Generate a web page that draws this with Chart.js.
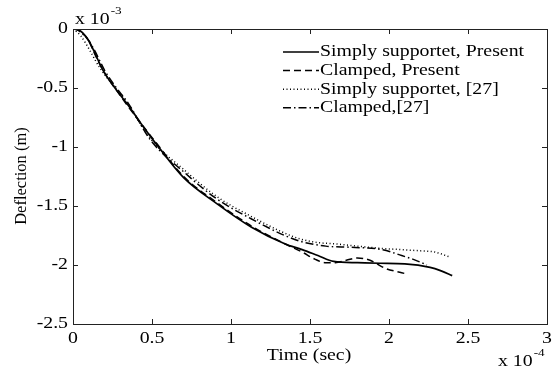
<!DOCTYPE html>
<html>
<head>
<meta charset="utf-8">
<script src="https://cdn.jsdelivr.net/npm/chart.js@4.4.0/dist/chart.umd.min.js"></script>
<style>
    html, body { margin: 0; padding: 0; background: #fff; }
    #wrap { width: 552px; height: 372px; }
</style>
</head>
<body>
<div id="wrap"><canvas id="deflChart"></canvas></div>
<script>
// time in units of 1e-4 s, deflection in units of 1e-3 m
const xTicks = [0, 0.5, 1, 1.5, 2, 2.5, 3];
const yTicks = [0, -0.5, -1, -1.5, -2, -2.5];

const seriesLabels = ['Simply supportet, Present', 'Clamped, Present', 'Simply supportet, [27]', 'Clamped,[27]'];

// Simply supported, present
const timeSS = [0, 0.03, 0.06, 0.1, 0.13, 0.19, 0.26, 0.34, 0.43, 0.53, 0.7, 0.91, 1.13, 1.34, 1.45, 1.55, 1.65, 1.8, 1.94, 2.1, 2.26, 2.33, 2.4];
const deflSS = [0, -0.005, -0.03, -0.1, -0.18, -0.35, -0.49, -0.63, -0.8, -0.98, -1.26, -1.48, -1.68, -1.82, -1.87, -1.92, -1.97, -1.98, -1.985, -1.99, -2.02, -2.05, -2.09];

// Clamped, present
const timeCP = [0, 0.03, 0.06, 0.1, 0.13, 0.19, 0.26, 0.34, 0.43, 0.53, 0.7, 0.91, 1.13, 1.34, 1.45, 1.53, 1.6, 1.66, 1.73, 1.8, 1.88, 1.98, 2.08, 2.12];
const deflCP = [0, -0.005, -0.035, -0.1, -0.19, -0.35, -0.49, -0.64, -0.8, -0.97, -1.25, -1.47, -1.67, -1.82, -1.89, -1.95, -1.98, -1.98, -1.96, -1.94, -1.96, -2.03, -2.065, -2.08];

// Simply supported, ref [27]
const timeSR = [0, 0.02, 0.05, 0.08, 0.11, 0.17, 0.25, 0.34, 0.49, 0.7, 0.91, 1.13, 1.34, 1.44, 1.55, 1.65, 1.8, 1.96, 2.08, 2.2, 2.29, 2.38];
const deflSR = [0, -0.02, -0.06, -0.12, -0.19, -0.33, -0.47, -0.62, -0.93, -1.19, -1.42, -1.59, -1.73, -1.78, -1.81, -1.82, -1.84, -1.86, -1.87, -1.88, -1.89, -1.93];

// Clamped, ref [27]
const timeCR = [0, 0.03, 0.06, 0.1, 0.14, 0.2, 0.27, 0.35, 0.49, 0.7, 0.91, 1.13, 1.34, 1.44, 1.6, 1.76, 1.96, 2.08, 2.15, 2.24];
const deflCR = [0, -0.01, -0.04, -0.1, -0.19, -0.35, -0.49, -0.63, -0.94, -1.21, -1.44, -1.61, -1.75, -1.8, -1.84, -1.85, -1.87, -1.92, -1.95, -2.0];

const dashes = [[], [7, 4], [1, 2.5], [8, 3, 1.5, 3]];

function toPoints(xs, ys) {
    return xs.map((x, i) => ({ x: x, y: ys[i] }));
}

const FONT = '"Liberation Serif", "Times New Roman", serif';
const SX = 1.2; // the source figure is a little wider than tall

function stretchedText(ctx, text, x, y, align) {
    ctx.save();
    ctx.translate(x, y);
    ctx.scale(SX, 1);
    ctx.textAlign = align;
    ctx.fillText(text, 0, 0);
    ctx.restore();
}

function textW(ctx, text) {
    return ctx.measureText(text).width * SX;
}

// box, inward ticks, labels and legend, drawn MATLAB-style
const framePlugin = {
    id: 'frame',
    afterDraw(chart) {
        const ctx = chart.ctx;
        const a = chart.chartArea;
        const xs = chart.scales.x;
        const ys = chart.scales.y;
        ctx.save();

        ctx.strokeStyle = '#222';
        ctx.lineWidth = 1;
        ctx.setLineDash([]);
        ctx.strokeRect(Math.round(a.left) + 0.5, Math.round(a.top) + 0.5,
            Math.round(a.right - a.left), Math.round(a.bottom - a.top));

        ctx.beginPath();
        xTicks.forEach(v => {
            const px = Math.round(xs.getPixelForValue(v)) + 0.5;
            ctx.moveTo(px, a.bottom); ctx.lineTo(px, a.bottom - 5);
            ctx.moveTo(px, a.top); ctx.lineTo(px, a.top + 5);
        });
        yTicks.forEach(v => {
            const py = Math.round(ys.getPixelForValue(v)) + 0.5;
            ctx.moveTo(a.left, py); ctx.lineTo(a.left + 5, py);
            ctx.moveTo(a.right, py); ctx.lineTo(a.right - 5, py);
        });
        ctx.stroke();

        ctx.fillStyle = '#000';
        ctx.textBaseline = 'middle';
        ctx.font = '16.5px ' + FONT;

        // tick labels
        xTicks.forEach(v => {
            stretchedText(ctx, String(v), xs.getPixelForValue(v), a.bottom + 15, 'center');
        });
        yTicks.forEach(v => {
            stretchedText(ctx, String(v), a.left - 5, ys.getPixelForValue(v), 'right');
        });

        // axis titles
        stretchedText(ctx, 'Time (sec)', 309, 356, 'center');
        ctx.save();
        ctx.translate(22, 176);
        ctx.rotate(-Math.PI / 2);
        ctx.textAlign = 'center';
        ctx.fillText('Deflection (m)', 0, 0);
        ctx.restore();

        // exponent labels
        stretchedText(ctx, 'x 10', 75, 20, 'left');
        let w = textW(ctx, 'x 10');
        ctx.font = '11px ' + FONT;
        stretchedText(ctx, '-3', 75 + w + 1, 11, 'left');

        ctx.font = '16.5px ' + FONT;
        w = textW(ctx, 'x 10');
        stretchedText(ctx, 'x 10', 498, 362, 'left');
        ctx.font = '11px ' + FONT;
        stretchedText(ctx, '-4', 498 + w + 1, 353, 'left');

        // legend
        ctx.font = '16.5px ' + FONT;
        chart.data.datasets.forEach((ds, i) => {
            const y = 52 + i * 18.6;
            ctx.beginPath();
            ctx.setLineDash(ds.borderDash || []);
            ctx.lineWidth = ds.borderWidth;
            ctx.strokeStyle = ds.borderColor;
            ctx.moveTo(283, y);
            ctx.lineTo(319, y);
            ctx.stroke();
            ctx.setLineDash([]);
            stretchedText(ctx, ds.label, 320, y, 'left');
        });

        ctx.restore();
    }
};

const series = [
    toPoints(timeSS, deflSS),
    toPoints(timeCP, deflCP),
    toPoints(timeSR, deflSR),
    toPoints(timeCR, deflCR)
];

const ctx = document.getElementById('deflChart').getContext('2d');

const deflChart = new Chart(ctx, {
    type: 'line',
    data: {
        datasets: series.map((pts, i) => ({
            label: seriesLabels[i],
            data: pts,
            borderColor: '#000',
            borderWidth: i === 0 ? 1.7 : 1.5,
            borderDash: dashes[i],
            pointRadius: 0,
            fill: false,
            cubicInterpolationMode: 'monotone'
        }))
    },
    options: {
        responsive: true,
        maintainAspectRatio: false,
        animation: false,
        layout: {
            padding: { top: 29, right: 5, left: 0, bottom: 0 }
        },
        scales: {
            x: {
                type: 'linear',
                min: 0,
                max: 3,
                afterBuildTicks: scale => { scale.ticks = xTicks.map(v => ({ value: v })); },
                afterFit: scale => { scale.height = 48; },
                grid: { drawOnChartArea: false, drawTicks: false },
                border: { display: false },
                ticks: { display: false }
            },
            y: {
                type: 'linear',
                min: -2.5,
                max: 0,
                afterBuildTicks: scale => { scale.ticks = yTicks.map(v => ({ value: v })); },
                afterFit: scale => { scale.width = 73; },
                grid: { drawOnChartArea: false, drawTicks: false },
                border: { display: false },
                ticks: { display: false }
            }
        },
        plugins: {
            legend: { display: false },
            tooltip: { enabled: false }
        }
    },
    plugins: [framePlugin]
});
</script>
</body>
</html>
